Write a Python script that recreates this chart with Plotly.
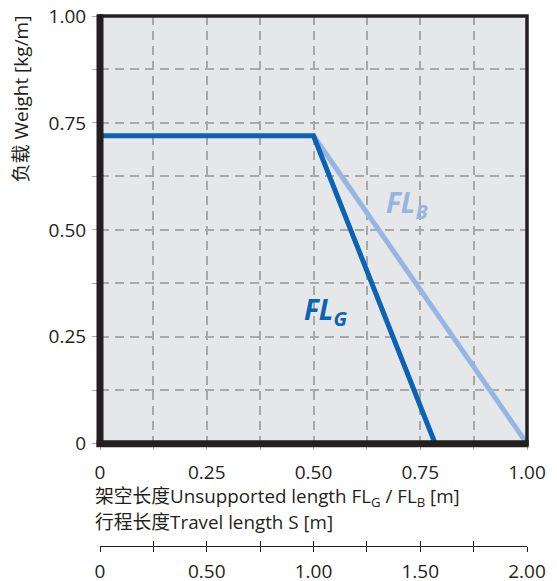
import plotly.graph_objects as go

# Data
flg_x = [0, 0.5, 0.785]
flg_y = [0.72, 0.72, 0]
flb_x = [0.5, 1.0]
flb_y = [0.72, 0]

x_tickvals = [0, 0.25, 0.5, 0.75, 1.0]
x_ticktext = ["0", "0.25", "0.50", "0.75", "1.00"]
y_tickvals = [0, 0.25, 0.5, 0.75, 1.0]
y_ticktext = ["0", "0.25", "0.50", "0.75", "1.00"]
s_tickvals = [0, 0.5, 1.0, 1.5, 2.0]
s_ticktext = ["0", "0.50", "1.00", "1.50", "2.00"]

DARK = "#0B63B3"
LIGHT = "#95B6E3"
INK = "#231F20"
GRID = "#A8A8A8"
FONT = "Open Sans, Noto Sans CJK SC, sans-serif"

# page body has an 8px offset; design in figure coordinates
W, H = 549, 573
ML, MR, MT, MB = 92, 30, 8, 2
PH = H - MT - MB           # paper height
PB = H - MB                # paper bottom in fig px


def py(screen_y):
    return (PB - (screen_y - 8)) / PH


def px(screen_x):
    return (screen_x - 100) / 427


fig = go.Figure()
fig.add_trace(go.Scatter(x=flb_x, y=flb_y, mode="lines",
                         line=dict(color=LIGHT, width=5), showlegend=False, hoverinfo="skip"))
fig.add_trace(go.Scatter(x=flg_x, y=flg_y, mode="lines",
                         line=dict(color=DARK, width=5), showlegend=False, hoverinfo="skip"))
fig.add_trace(go.Scatter(x=[None], y=[None], xaxis="x2", showlegend=False, hoverinfo="skip"))
fig.add_trace(go.Scatter(x=[None], y=[None], xaxis="x3", showlegend=False, hoverinfo="skip"))

ydom0 = py(443.7)
spos = py(546)

fig.update_layout(
    width=W, height=H,
    margin=dict(l=ML, r=MR, t=MT, b=MB),
    paper_bgcolor="white",
    plot_bgcolor="#E6E7E9",
    font=dict(family=FONT, color=INK, size=19),
    xaxis=dict(
        range=[0, 1], domain=[0, 1], anchor="y", automargin=False,
        tickvals=x_tickvals, ticktext=x_ticktext, ticklabeloverflow="allow",
        showgrid=True, gridcolor=GRID, gridwidth=1.5, griddash="9px,6px",
        minor=dict(dtick=0.125, showgrid=True, gridcolor=GRID, gridwidth=1.5,
                   griddash="9px,6px", ticks="outside", ticklen=5, tickcolor=GRID),
        ticks="outside", ticklen=5, tickcolor=GRID,
        showline=False, zeroline=False, ticklabelstandoff=6,
        tickfont=dict(size=19),
    ),
    yaxis=dict(
        range=[0, 1], domain=[ydom0, 1], automargin=False,
        tickvals=y_tickvals, ticktext=y_ticktext, ticklabeloverflow="allow",
        showgrid=True, gridcolor=GRID, gridwidth=1.5, griddash="9px,6px",
        minor=dict(dtick=0.125, showgrid=True, gridcolor=GRID, gridwidth=1.5,
                   griddash="9px,6px", ticks="outside", ticklen=7, tickcolor=GRID),
        ticks="outside", ticklen=7, tickcolor=GRID,
        showline=False, zeroline=False, ticklabelstandoff=2,
        tickfont=dict(size=19),
    ),
    xaxis2=dict(
        range=[0, 2], overlaying="x", anchor="free", position=spos, automargin=False,
        tickvals=s_tickvals, ticktext=s_ticktext, ticklabeloverflow="allow",
        showgrid=False, zeroline=False,
        showline=True, linecolor=INK, linewidth=1.2,
        ticks="outside", ticklen=5, tickcolor=INK, tickwidth=1.2,
        minor=dict(dtick=0.25, ticks="outside", ticklen=5, tickcolor=INK, tickwidth=1.2, showgrid=False),
        tickfont=dict(size=19), ticklabelstandoff=3,
    ),
    xaxis3=dict(
        range=[0, 2], overlaying="x", anchor="free", position=spos, automargin=False,
        showticklabels=False, showgrid=False, zeroline=False, showline=False,
        tickvals=s_tickvals,
        ticks="inside", ticklen=5, tickcolor=INK, tickwidth=1.2,
        minor=dict(dtick=0.25, ticks="inside", ticklen=5, tickcolor=INK, tickwidth=1.2, showgrid=False),
    ),
    shapes=[
        dict(type="rect", xref="x domain", yref="y domain", x0=0, x1=1, y0=0, y1=1,
             line=dict(color=INK, width=3.5), layer="above"),
        dict(type="line", xref="x domain", yref="y domain", x0=0, x1=0, y0=-0.008, y1=1.004,
             line=dict(color=INK, width=7), layer="above"),
        dict(type="line", xref="x domain", yref="y domain", x0=-0.008, x1=1.004, y0=0, y1=0,
             line=dict(color=INK, width=7), layer="above"),
    ],
    annotations=[
        dict(text="负载 Weight [kg/m]", textangle=-90, xref="paper", yref="paper",
             x=px(20), y=py(14), xanchor="center", yanchor="top",
             showarrow=False, font=dict(size=19)),
        dict(text="架空长度Unsupported length FL<sub>G</sub> / FL<sub>B</sub> [m]",
             xref="paper", yref="paper", x=px(93), y=py(497),
             xanchor="left", yanchor="middle", showarrow=False, font=dict(size=18.8)),
        dict(text="行程长度Travel length S [m]",
             xref="paper", yref="paper", x=px(93), y=py(522),
             xanchor="left", yanchor="middle", showarrow=False, font=dict(size=18.8)),
        dict(text="<b><i>FL<sub>G</sub></i></b>", xref="x", yref="y", x=0.527, y=0.31,
             showarrow=False, font=dict(size=28, color=DARK)),
        dict(text="<b><i>FL<sub>B</sub></i></b>", xref="x", yref="y", x=0.72, y=0.56,
             showarrow=False, font=dict(size=28, color=LIGHT)),
    ],
)

fig.write_html("out.html")
